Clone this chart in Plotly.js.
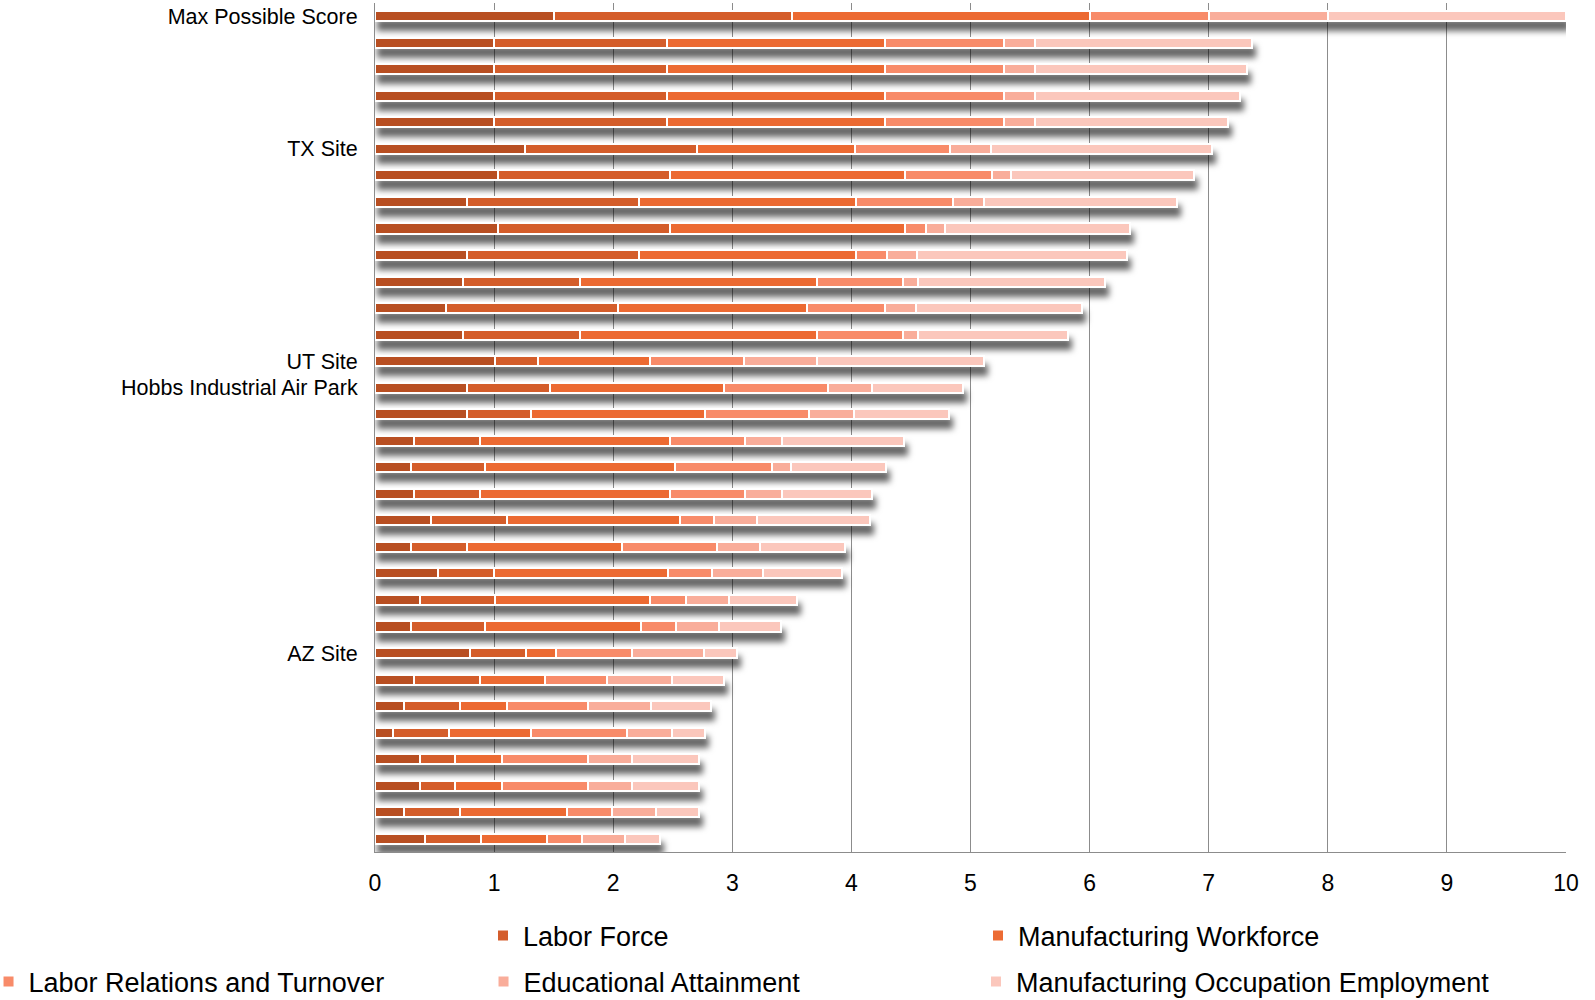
<!DOCTYPE html>
<html>
<head>
<meta charset="utf-8">
<script src="https://cdn.plot.ly/plotly-3.0.1.min.js"></script>
<style>
  html, body { margin: 0; padding: 0; background: #fff; }
  #chart { width: 1595px; height: 1000px; }
  /* soft drop shadow under every stacked bar */
  #chart .barlayer { filter: url(#barShadow); }
</style>
</head>
<body>
<svg width="0" height="0" style="position:absolute">
  <defs>
    <filter id="barShadow" x="-5%" y="-5%" width="115%" height="120%">
      <feDropShadow dx="3" dy="9" stdDeviation="3.2" flood-color="#000" flood-opacity="0.6"/>
    </filter>
  </defs>
</svg>
<div id="chart"></div>
<script>
// Row labels, top to bottom (unlabelled sites are left blank)
const siteLabels = [
  "Max Possible Score", "", "", "", "", "TX Site", "", "", "", "", "", "", "",
  "UT Site", "Hobbs Industrial Air Park", "", "", "", "", "", "", "", "", "",
  "AZ Site", "", "", "", "", "", "", ""
];

// Score contributed by each factor, per row
const otherFactor = [1.50, 1.00, 1.00, 1.00, 1.00, 1.26, 1.03, 0.77, 1.03, 0.77, 0.74, 0.60, 0.74, 1.01, 0.77, 0.77,
                     0.33, 0.30, 0.33, 0.47, 0.30, 0.53, 0.38, 0.30, 0.80, 0.33, 0.24, 0.15, 0.38, 0.38, 0.24, 0.42];
const laborForce = [2.00, 1.45, 1.45, 1.45, 1.45, 1.44, 1.45, 1.45, 1.45, 1.45, 0.98, 1.44, 0.98, 0.36, 0.70, 0.54,
                    0.55, 0.62, 0.55, 0.64, 0.47, 0.47, 0.63, 0.62, 0.47, 0.55, 0.47, 0.47, 0.29, 0.29, 0.47, 0.47];
const mfgWorkforce = [2.50, 1.83, 1.83, 1.83, 1.83, 1.33, 1.97, 1.82, 1.97, 1.82, 1.99, 1.59, 1.99, 0.94, 1.46, 1.46,
                      1.60, 1.60, 1.60, 1.45, 1.30, 1.46, 1.30, 1.31, 0.25, 0.55, 0.40, 0.69, 0.40, 0.40, 0.90, 0.55];
const laborRelations = [1.00, 1.00, 1.00, 1.00, 1.00, 0.80, 0.73, 0.81, 0.18, 0.26, 0.72, 0.65, 0.72, 0.79, 0.87, 0.87,
                        0.63, 0.81, 0.63, 0.29, 0.80, 0.37, 0.30, 0.30, 0.64, 0.52, 0.68, 0.81, 0.72, 0.72, 0.38, 0.30];
const education = [1.00, 0.26, 0.26, 0.26, 0.26, 0.34, 0.16, 0.26, 0.16, 0.25, 0.13, 0.26, 0.13, 0.61, 0.37, 0.38,
                   0.31, 0.16, 0.31, 0.36, 0.36, 0.43, 0.36, 0.36, 0.60, 0.54, 0.53, 0.37, 0.37, 0.37, 0.37, 0.36];
const occupationEmp = [2.00, 1.82, 1.78, 1.72, 1.62, 1.86, 1.54, 1.62, 1.55, 1.76, 1.57, 1.40, 1.26, 1.40, 0.77, 0.80,
                       1.02, 0.80, 0.75, 0.95, 0.72, 0.66, 0.57, 0.52, 0.28, 0.44, 0.50, 0.28, 0.56, 0.56, 0.36, 0.29];

const seriesNames = ["", "Labor Force", "Manufacturing Workforce", "Labor Relations and Turnover",
                     "Educational Attainment", "Manufacturing Occupation Employment"];
const seriesValues = [otherFactor, laborForce, mfgWorkforce, laborRelations, education, occupationEmp];
const seriesColors = ["#B84F23", "#D45D2C", "#EC6B33", "#F88B69", "#F9AD9A", "#FBC7BC"];
const seriesLegend = [null, "legend", "legend", "legend2", "legend2", "legend3"];

const rowIndex = siteLabels.map((_, i) => i + 1);
const fontFamily = "Liberation Sans, Arial, Helvetica, sans-serif";

const traces = seriesValues.map((vals, k) => {
  const t = {
    type: "bar",
    orientation: "h",
    name: seriesNames[k],
    x: vals,
    y: rowIndex,
    width: 0.38,
    marker: { color: seriesColors[k], line: { color: "#ffffff", width: 2 } },
    showlegend: seriesLegend[k] !== null,
    hovertemplate: "%{x:.2f}<extra>" + seriesNames[k] + "</extra>"
  };
  if (seriesLegend[k]) t.legend = seriesLegend[k];
  return t;
});

const legendCommon = {
  orientation: "h",
  xanchor: "left",
  yanchor: "middle",
  font: { family: fontFamily, size: 27, color: "#000" },
  entrywidth: 450,
  entrywidthmode: "pixels",
  bgcolor: "rgba(0,0,0,0)",
  traceorder: "normal"
};

const layout = {
  width: 1595,
  height: 1000,
  margin: { l: 375, r: 29, t: 3, b: 148, autoexpand: false },
  paper_bgcolor: "#fff",
  plot_bgcolor: "#fff",
  barmode: "stack",
  bargap: 0,
  font: { family: fontFamily, color: "#000" },
  xaxis: {
    range: [0, 10],
    dtick: 1,
    tick0: 0,
    showgrid: true,
    gridcolor: "#8c8c8c",
    gridwidth: 1,
    zeroline: false,
    showline: true,
    linecolor: "#8c8c8c",
    linewidth: 1,
    ticks: "",
    ticklabelstandoff: 10,
    tickfont: { family: fontFamily, size: 23, color: "#000" },
    fixedrange: true
  },
  yaxis: {
    range: [32.5, 0.5],
    tickmode: "array",
    tickvals: rowIndex,
    ticktext: siteLabels,
    showgrid: false,
    zeroline: false,
    showline: true,
    linecolor: "#8c8c8c",
    linewidth: 1,
    ticks: "",
    ticklabelstandoff: 12,
    tickfont: { family: fontFamily, size: 21.5, color: "#000" },
    fixedrange: true
  },
  legend: Object.assign({}, legendCommon, { x: 0.0907, y: -0.0990 }),
  legend2: Object.assign({}, legendCommon, { x: -0.3245, y: -0.1532 }),
  legend3: Object.assign({}, legendCommon, { x: 0.5046, y: -0.1532, entrywidth: 0 })
};

Plotly.newPlot("chart", traces, layout, { displayModeBar: false, staticPlot: false });
</script>
</body>
</html>
